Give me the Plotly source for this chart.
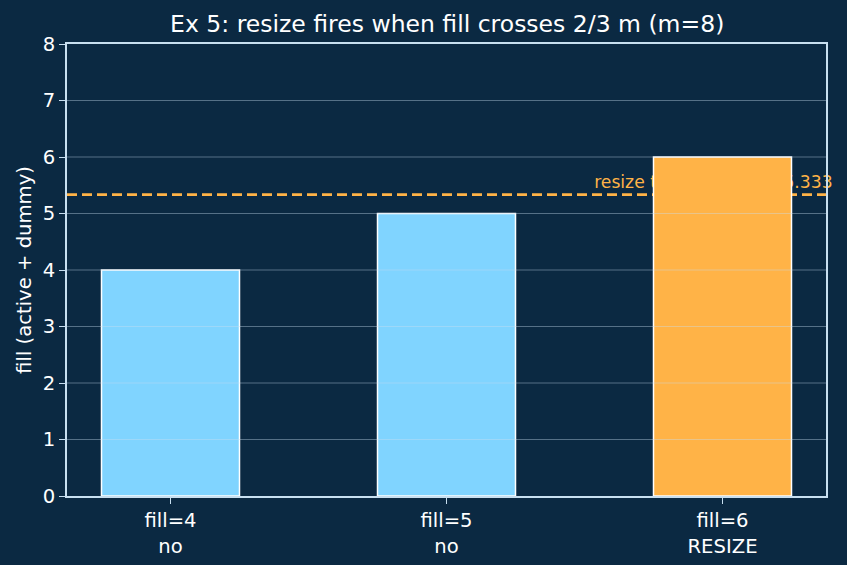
import plotly.graph_objects as go

# ---- data ----
categories = ["fill=4<br>no", "fill=5<br>no", "fill=6<br>RESIZE"]
fill_values = [4, 5, 6]
bar_colors = ["#80d4ff", "#80d4ff", "#ffb347"]
m = 8
threshold = 2 * m / 3
threshold_label = "resize trigger 2m/3 = 5.333"
y_ticks = [0, 1, 2, 3, 4, 5, 6, 7, 8]

BG = "#0b2942"
SPINE = "#c8dff0"
FONT = "DejaVu Sans"

x_idx = list(range(len(categories)))

fig = go.Figure()

# threshold label (main subplot, drawn under bars)
fig.add_trace(go.Scatter(
    x=[1.967], y=[threshold + 0.19], mode="text", text=[threshold_label],
    textposition="middle center", cliponaxis=False, hoverinfo="skip",
    textfont=dict(family=FONT, size=17.2, color="#ffb347"),
    xaxis="x", yaxis="y", showlegend=False,
))

# bars on overlay subplot so they cover the threshold line/label
fig.add_trace(go.Bar(
    x=x_idx, y=fill_values, width=0.5,
    marker=dict(color=bar_colors, line=dict(color="white", width=1.5)),
    xaxis="x2", yaxis="y2", showlegend=False,
))

xr = [-0.375, 2.375]
yr = [0, 8]

# threshold dashed line below bars
fig.add_shape(type="line", xref="x", yref="y", x0=xr[0], x1=xr[1],
              y0=threshold, y1=threshold, layer="below",
              line=dict(color="#ffb347", width=2.6, dash="10px,5px"))

# gridlines above bars
for t in y_ticks[1:-1]:
    fig.add_shape(type="line", xref="x", yref="y", x0=xr[0], x1=xr[1],
                  y0=t, y1=t, layer="above",
                  line=dict(color="rgba(200,223,240,0.5)", width=0.8))

axis_common = dict(showgrid=False, zeroline=False)
fig.update_layout(
    width=847, height=565,
    margin=dict(l=67, r=21, t=44, b=69, autoexpand=False),
    paper_bgcolor=BG, plot_bgcolor=BG,
    font=dict(family=FONT, color="white", size=19.6),
    title=dict(text="Ex 5: resize fires when fill crosses 2/3 m (m=8)",
               x=0.528, xanchor="center", y=0.958, yanchor="middle",
               font=dict(family=FONT, size=23.5, color="white")),
    xaxis=dict(range=xr, tickmode="array", tickvals=x_idx, ticktext=categories,
               showline=True, linecolor=SPINE, linewidth=1.5, mirror=True,
               ticks="outside", ticklen=6, tickcolor=SPINE, tickwidth=1.2,
               automargin=False,
               tickfont=dict(size=19.6, color="white"), **axis_common),
    yaxis=dict(range=yr, tickmode="array", tickvals=y_ticks,
               showline=True, linecolor=SPINE, linewidth=1.5, mirror=True,
               ticks="outside", ticklen=6, tickcolor=SPINE, tickwidth=1.2,
               automargin=False,
               tickfont=dict(size=19.6, color="white"),
               title=dict(text="fill (active + dummy)", standoff=6,
                          font=dict(size=19.6, color="white")),
               **axis_common),
    xaxis2=dict(range=xr, overlaying="x", visible=False, **axis_common),
    yaxis2=dict(range=yr, overlaying="y", visible=False, **axis_common),
)

fig.write_html("out.html")
